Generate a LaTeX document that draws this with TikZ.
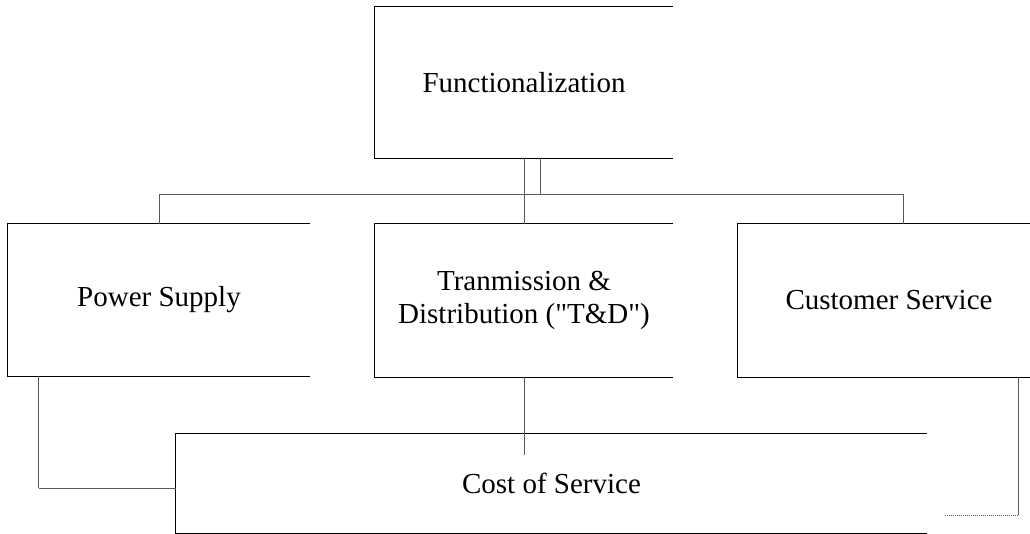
\documentclass[tikz,border=0pt]{standalone}
\usepackage{fontspec}
\setmainfont{Liberation Serif}[Ligatures=TeXOff]
\usetikzlibrary{calc}
\begin{document}
\begin{tikzpicture}[x=1pt,y=-1pt,
  boxnode/.style={draw=none,inner sep=0pt,align=center,
    font=\fontsize{29}{33}\selectfont},
  openbox/.style={line width=1.1pt,black},
  conn/.style={line width=0.8pt,gray!70!black,dash pattern=on 1.5pt off 0.5pt}]
\useasboundingbox[fill=white] (0,0) rectangle (1030,534);

% boxes (text nodes sized to the frames)
\node[boxnode,minimum width=298pt,minimum height=151pt] (func) at (524,82.5) {Functionalization};
\node[boxnode,minimum width=302pt,minimum height=152pt] (ps) at (159,300) {Power Supply};
\node[boxnode,minimum width=298pt,minimum height=153pt,text depth=6pt] (td) at (524,300.5) {Tranmission \&\\Distribution ("T\&D")};
\node[boxnode,minimum width=302pt,minimum height=153pt] (cs) at (889,300.5) {Customer Service};
\node[boxnode,minimum width=751pt,minimum height=99pt] (cos) at (551.5,483.5) {Cost of Service};

% frames: left, top and bottom sides
\foreach \n in {func,ps,td,cs,cos}
  \draw[openbox] (\n.north east) -- (\n.north west) -- (\n.south west) -- (\n.south east);

% bus between the top box and the middle row
\coordinate (bus) at (524,194);
\coordinate (funcright) at ($(func.south)+(16,0)$);
\coordinate (csdrop) at ($(cs.north)+(14,0)$);
\draw[conn] (func.south) -- (td.north);
\draw[conn] (funcright) -- (funcright |- bus);
\draw[conn] (ps.north) -- (ps.north |- bus) -- (csdrop |- bus) -- (csdrop);

% links into Cost of Service
\coordinate (psdrop) at ($(ps.south west)+(31,0)$);
\draw[conn] (psdrop) |- ($(cos.west)+(0,4.5)$);
\draw[conn] (td.south) -- ($(td.south |- cos.north)+(0,21)$);
\coordinate (csright) at ($(cs.south east)+(-22,0)$);
\coordinate (csend) at ($(cos.south east)+(18,-18)$);
\draw[conn] (csright) |- (csend);
\end{tikzpicture}
\end{document}
